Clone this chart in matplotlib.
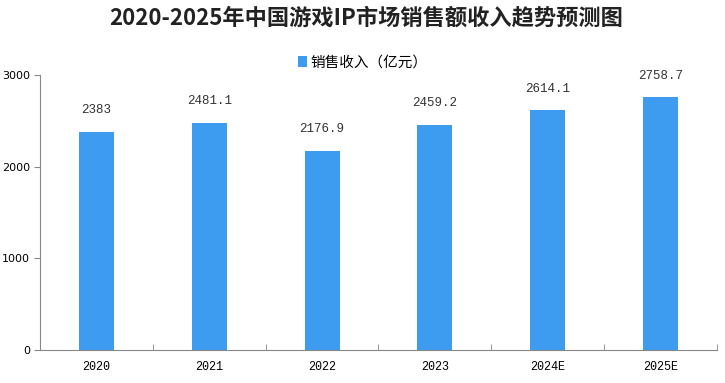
import matplotlib
matplotlib.use('Agg')
import matplotlib.pyplot as plt
import numpy as np

plt.rcParams['font.family'] = ['Noto Sans CJK SC', 'DejaVu Sans']

years   = ["2020", "2021", "2022", "2023", "2024E", "2025E"]
revenue = [2383, 2481.1, 2176.9, 2459.2, 2614.1, 2758.7]
labels  = ["2383", "2481.1", "2176.9", "2459.2", "2614.1", "2758.7"]
yticks  = [0, 1000, 2000, 3000]

fig = plt.figure(figsize=(7.25, 3.83), dpi=100)
ax = fig.add_axes([0.055, 0.086, 0.934, 0.718])

x = np.arange(len(years))
ax.bar(x, revenue, width=0.31, color="#3d9bf0", label="销售收入（亿元）")

for xi, v, s in zip(x, revenue, labels):
    ax.annotate(s, (xi, v), xytext=(0, 11), textcoords="offset points",
                ha="center", va="bottom", fontsize=9, color="#333333",
                family="Liberation Mono")

ax.set_xlim(-0.5, len(years) - 0.5)
ax.set_ylim(0, 3000)
ax.set_yticks(yticks)
ax.set_yticklabels([str(t) for t in yticks], fontsize=8, family="DejaVu Sans")
ax.set_xticks(x)
ax.set_xticklabels(years, fontsize=8.5, family="Liberation Mono")
ax.set_xticks(np.arange(-0.5, len(years)), minor=True)
ax.tick_params(axis="x", which="major", length=0, pad=8)
ax.tick_params(axis="x", which="minor", direction="in", length=4, color="#888888")
ax.tick_params(axis="y", length=4, color="#888888", pad=3)

for side in ["top", "right"]:
    ax.spines[side].set_visible(False)
for side in ["left", "bottom"]:
    ax.spines[side].set_color("#888888")

fig.text(0.505, 0.953, "2020-2025年中国游戏IP市场销售额收入趋势预测图",
         ha="center", va="center", fontsize=16, fontweight="bold", color="#222222")

ax.legend(loc="center", bbox_to_anchor=(0.477, 1.044), frameon=False,
          fontsize=10.5, handlelength=0.6, handleheight=0.8, handletextpad=0.3)

fig.savefig("out.png", dpi=100)
